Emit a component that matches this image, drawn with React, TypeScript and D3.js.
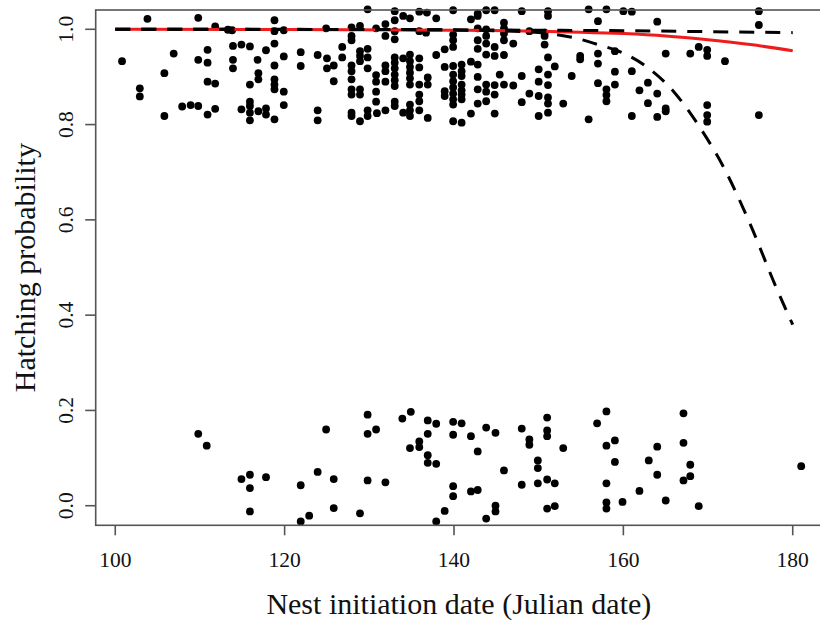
import React from "react";
import * as d3 from "d3";

// Nest initiation date (Julian) vs jittered hatching outcome (1 = hatched, 0 = failed)
const hatchedDates: number[] = [
  103.8, 109.8, 111.8, 113.3, 113.8, 100.8, 106.9, 110.9, 109.8, 110.9,
  113.9, 114.9, 115.9, 113.9, 113.9, 116.8, 117.8, 105.8, 116.9, 116.9,
  110.9, 111.8, 115.9, 102.9, 102.9, 107.9, 108.9, 109.8, 111.8, 110.9,
  105.8, 114.9, 115.9, 115.9, 115.9, 115.9, 116.9, 117.8, 117.8,
  129.8, 133.0, 134.0, 134.8, 135.9, 136.8, 137.9, 133.0,
  118.8, 118.8, 119.9, 124.9, 127.9, 128.9, 127.9, 127.9, 130.8, 131.9,
  131.9, 133.0, 133.0, 135.9, 136.7, 118.8, 119.9, 121.9, 123.9, 125.0,
  126.8, 126.8, 128.9, 128.9, 128.9, 129.8, 129.8, 133.0, 133.0, 133.0,
  133.0, 133.0, 133.0, 134.0, 134.8, 134.8, 134.8, 134.8, 134.8, 134.8,
  135.9, 135.9, 137.9, 138.9, 118.8, 121.9, 125.0, 125.8, 127.9, 127.9,
  129.8, 131.9, 131.9, 138.9, 118.8, 118.8, 118.8, 119.9, 125.8, 127.9,
  127.9, 127.9, 128.9, 128.9, 130.8, 130.8, 130.8, 130.8, 131.9, 135.9,
  135.9, 136.9, 136.9, 138.9, 138.9, 119.9, 123.9, 123.9, 127.9, 127.9,
  128.9, 129.8, 129.8, 130.9, 131.9, 133.0, 133.0, 134.0, 134.8, 134.8,
  134.8, 135.9, 135.9, 136.9, 118.8,
  139.9, 142.8, 143.8, 144.8, 148.0, 151.1, 155.9, 158.0, 142.0, 142.8,
  151.1, 157.0, 142.8, 143.8, 145.9, 145.9, 145.9, 148.9, 150.7, 150.7,
  150.7, 139.9, 139.9, 139.9, 142.8, 143.8, 143.8, 145.9, 147.0, 142.8,
  144.8, 143.8, 144.8, 145.9, 157.0, 157.0, 159.0, 154.9, 154.9, 151.1,
  139.9, 140.9, 142.0, 142.8, 139.9, 140.9, 140.9, 150.0, 151.9, 151.1,
  142.8, 145.4, 148.0, 153.9, 159.0, 139.9, 139.9, 140.9, 140.9, 143.8,
  144.8, 145.9, 147.0, 150.0, 151.1, 157.0, 159.0, 142.8, 143.8, 144.8,
  139.9, 139.9, 140.9, 140.9, 148.9, 150.0, 151.1, 151.1, 158.0, 158.0,
  158.0, 143.8, 148.0, 152.9, 139.9, 142.8, 142.0, 144.8, 150.0, 151.1,
  155.9, 139.9, 140.9,
  160.0, 161.0, 176.0, 164.0, 176.0, 165.0, 167.9, 168.9, 169.9, 169.9,
  172.0, 161.0, 162.9, 161.9, 164.0, 162.9, 165.0, 165.0, 161.0, 164.0,
  169.9, 169.9, 169.9, 176.0,
];

const hatchedProbs: number[] = [
  1.022, 1.024, 1.006, 0.999, 0.998, 0.933, 0.949, 0.957, 0.936, 0.930,
  0.965, 0.968, 0.964, 0.936, 0.918, 0.936, 0.956, 0.908, 0.908, 0.895,
  0.890, 0.886, 0.884, 0.876, 0.859, 0.838, 0.841, 0.839, 0.833, 0.821,
  0.818, 0.832, 0.848, 0.839, 0.825, 0.809, 0.828, 0.834, 0.821,
  1.042, 1.038, 1.028, 1.023, 1.037, 1.035, 1.023, 1.019,
  1.019, 0.996, 0.998, 1.002, 1.004, 1.007, 0.986, 0.977, 1.002, 1.011,
  0.986, 0.996, 0.979, 0.996, 0.993, 0.970, 0.943, 0.952, 0.946, 0.939,
  0.963, 0.941, 0.954, 0.944, 0.933, 0.959, 0.941, 0.941, 0.930, 0.918,
  0.905, 0.893, 0.881, 0.939, 0.947, 0.933, 0.921, 0.909, 0.897, 0.884,
  0.939, 0.920, 0.946, 0.958, 0.924, 0.923, 0.918, 0.924, 0.924, 0.912,
  0.918, 0.924, 0.912, 0.921, 0.895, 0.884, 0.874, 0.869, 0.891, 0.895,
  0.874, 0.863, 0.874, 0.863, 0.904, 0.890, 0.869, 0.848, 0.890, 0.884,
  0.863, 0.899, 0.884, 0.870, 0.860, 0.841, 0.830, 0.809, 0.825, 0.818,
  0.807, 0.830, 0.818, 0.824, 0.830, 0.848, 0.839, 0.825, 0.842, 0.830,
  0.818, 0.849, 0.830, 0.814, 0.811,
  1.040, 1.033, 1.040, 1.040, 1.038, 1.038, 1.042, 1.042, 1.021, 1.028,
  1.028, 1.017, 1.002, 1.000, 1.014, 1.002, 0.991, 0.996, 0.993, 0.986,
  0.968, 0.989, 0.977, 0.963, 0.977, 0.986, 0.970, 0.977, 0.970, 0.959,
  0.963, 0.947, 0.944, 0.946, 0.949, 0.928, 0.954, 0.944, 0.937, 0.941,
  0.923, 0.926, 0.932, 0.926, 0.905, 0.912, 0.902, 0.916, 0.922, 0.905,
  0.900, 0.905, 0.902, 0.902, 0.911, 0.891, 0.878, 0.884, 0.872, 0.884,
  0.883, 0.884, 0.882, 0.890, 0.883, 0.887, 0.884, 0.874, 0.869, 0.863,
  0.865, 0.853, 0.863, 0.853, 0.865, 0.860, 0.857, 0.844, 0.874, 0.862,
  0.849, 0.849, 0.847, 0.844, 0.842, 0.844, 0.823, 0.823, 0.818, 0.825,
  0.811, 0.807, 0.804,
  1.038, 1.037, 1.038, 1.016, 1.009, 0.949, 0.949, 0.963, 0.957, 0.944,
  0.933, 0.912, 0.888, 0.872, 0.865, 0.845, 0.834, 0.828, 0.818, 0.816,
  0.841, 0.820, 0.806, 0.820,
];

const failedDates: number[] = [
  109.8, 110.8, 124.9, 129.8, 129.8, 130.8, 114.9, 115.9, 117.8, 115.9,
  121.9, 123.9, 125.8, 129.8, 115.9, 125.8, 128.9, 121.9, 122.9, 131.9,
  133.9, 134.9, 136.9, 137.9, 136.9, 135.9, 135.9, 134.8, 136.9, 136.9,
  137.9, 139.9, 140.9, 139.9, 142.0, 142.8, 143.8, 144.9, 148.0, 148.9,
  148.9, 151.0, 151.0, 151.0, 152.9, 156.9, 145.9, 149.9, 149.9, 148.0,
  149.9, 151.0, 151.9, 139.9, 139.9, 142.0, 142.8, 138.9, 137.9, 144.9,
  144.9, 143.8, 151.0, 151.9, 158.0, 158.0, 159.0, 159.0, 158.0, 158.0,
  158.0, 159.9, 161.9, 163.0, 164.0, 164.0, 165.0, 167.1, 167.1, 167.1,
  167.9, 167.9, 168.9, 181.0,
];

const failedProbs: number[] = [
  0.151, 0.126, 0.160, 0.191, 0.151, 0.160, 0.056, 0.065, 0.060, 0.037,
  0.043, 0.071, 0.056, 0.053, -0.012, -0.005, -0.016, -0.033, -0.021, 0.049,
  0.183, 0.197, 0.179, 0.172, 0.151, 0.135, 0.123, 0.121, 0.106, 0.090,
  0.088, 0.176, 0.173, 0.149, 0.146, 0.114, 0.164, 0.153, 0.162, 0.139,
  0.128, 0.185, 0.158, 0.146, 0.121, 0.173, 0.074, 0.095, 0.079, 0.044,
  0.047, 0.055, 0.047, 0.041, 0.020, 0.030, 0.033, -0.011, -0.033, 0.000,
  -0.012, -0.027, -0.006, -0.001, 0.198, 0.126, 0.137, 0.092, 0.047, 0.007,
  -0.006, 0.008, 0.031, 0.095, 0.124, 0.065, 0.011, 0.194, 0.132, 0.053,
  0.086, 0.062, -0.001, 0.083,
];

// Fitted curves
const fitDates: number[] = [100, 120, 140, 150, 155, 160, 165, 170, 175, 180];
const fitProbs: number[] = [1.0, 0.9995, 0.998, 0.996, 0.994, 0.991, 0.986, 0.978, 0.968, 0.955];

const upperDates: number[] = [100, 130, 150, 160, 170, 180];
const upperProbs: number[] = [1.0, 0.9995, 0.998, 0.997, 0.995, 0.993];

const lowerDates: number[] = [100, 130, 140, 145, 150, 154, 157, 160, 163, 166, 169, 172, 175, 178, 180];
const lowerProbs: number[] = [1.0, 0.9997, 0.9985, 0.997, 0.993, 0.983, 0.968, 0.95, 0.918, 0.868, 0.795, 0.705, 0.59, 0.46, 0.38];

const xTicks: number[] = [100, 120, 140, 160, 180];
const yTicks: number[] = [0.0, 0.2, 0.4, 0.6, 0.8, 1.0];

const xLabel = "Nest initiation date (Julian date)";
const yLabel = "Hatching probability";

const W = 820;
const H = 621;
const box = { left: 95.7, right: 828.3, top: 10, bottom: 525.3 };

export default function App() {
  const x = d3.scaleLinear().domain([97.69, 184.2]).range([box.left, box.right]);
  const y = d3.scaleLinear().domain([-0.0411, 1.0405]).range([box.bottom, box.top]);

  const mkLine = (xs: number[], ys: number[]) =>
    d3
      .line<number>()
      .x((_, i) => x(xs[i]))
      .y((_, i) => y(ys[i]))
      .curve(d3.curveMonotoneX)(xs) || "";

  const axisColor = "#555";
  const font = "'Liberation Serif', 'DejaVu Serif', serif";

  return (
    <svg
      width={W}
      height={H}
      style={{ position: "absolute", left: 0, top: 0, background: "#fff" }}
      fontFamily={font}
    >
      <rect x={0} y={0} width={W} height={H} fill="#fff" />
      {/* points */}
      <g fill="#000">
        {hatchedDates.map((d, i) => (
          <circle key={"h" + i} cx={x(d)} cy={y(hatchedProbs[i])} r={3.9} />
        ))}
        {failedDates.map((d, i) => (
          <circle key={"f" + i} cx={x(d)} cy={y(failedProbs[i])} r={3.9} />
        ))}
      </g>
      {/* fitted curve and bounds */}
      <path d={mkLine(fitDates, fitProbs)} fill="none" stroke="#ee1c1c" strokeWidth={3} />
      <path
        d={mkLine(upperDates, upperProbs)}
        fill="none"
        stroke="#000"
        strokeWidth={3}
        strokeDasharray="15 11"
      />
      <path
        d={mkLine(lowerDates, lowerProbs)}
        fill="none"
        stroke="#000"
        strokeWidth={3}
        strokeDasharray="15 11"
      />
      {/* box */}
      <rect
        x={box.left}
        y={box.top}
        width={box.right - box.left}
        height={box.bottom - box.top}
        fill="none"
        stroke={axisColor}
        strokeWidth={1.6}
      />
      {/* x axis */}
      <g>
        {xTicks.map((t) => (
          <g key={"xt" + t}>
            <line x1={x(t)} x2={x(t)} y1={box.bottom} y2={box.bottom + 10} stroke={axisColor} strokeWidth={1.6} />
            <text x={x(t)} y={566.5} textAnchor="middle" fontSize={21.5} fill="#111">
              {t}
            </text>
          </g>
        ))}
      </g>
      {/* y axis */}
      <g>
        {yTicks.map((t) => (
          <g key={"yt" + t}>
            <line x1={box.left - 10.5} x2={box.left} y1={y(t)} y2={y(t)} stroke={axisColor} strokeWidth={1.6} />
            <text
              transform={`translate(73.3, ${y(t)}) rotate(-90)`}
              textAnchor="middle"
              fontSize={21.5}
              fill="#111"
            >
              {t.toFixed(1)}
            </text>
          </g>
        ))}
      </g>
      <text x={(box.left + 820) / 2 + 1} y={614} textAnchor="middle" fontSize={30} fill="#111">
        {xLabel}
      </text>
      <text
        transform={`translate(35, ${(box.top + box.bottom) / 2}) rotate(-90)`}
        textAnchor="middle"
        fontSize={30}
        fill="#111"
      >
        {yLabel}
      </text>
    </svg>
  );
}
